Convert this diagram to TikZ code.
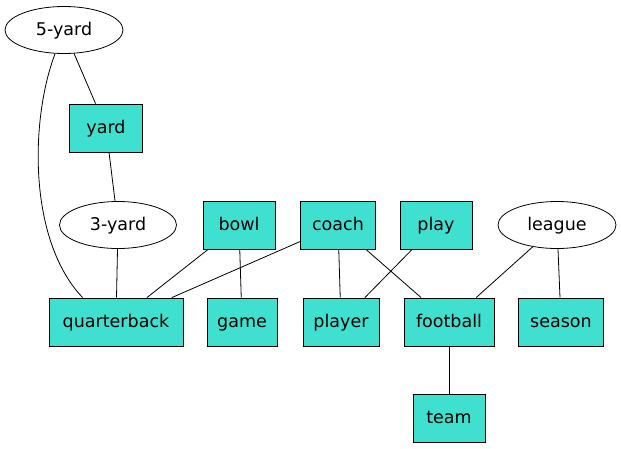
\documentclass[tikz,border=0pt]{standalone}
\usepackage{fontspec}
\setmainfont{DejaVu Sans}
\usetikzlibrary{shapes.geometric}
\definecolor{turq}{HTML}{40E0D0}
\begin{document}
\begin{tikzpicture}[x=1pt,y=-1pt,
  lbl/.style={font=\fontsize{17.5}{21}\selectfont,text height=14pt,text depth=4pt},
  box/.style={draw,line width=0.8pt,fill=turq,minimum height=48pt,inner sep=0pt,lbl},
  ell/.style={draw,line width=0.8pt,ellipse,minimum width=118pt,minimum height=47pt,inner sep=0pt,lbl},
  edge/.style={draw,line width=0.8pt}]
\useasboundingbox (0,0) rectangle (621,448);
\node[ell] (y5) at (64,30) {5-yard};
\node[box,minimum width=73pt] (yard) at (106,128) {yard};
\node[ell,minimum width=117pt] (y3) at (118,225) {3-yard};
\node[box,minimum width=72pt] (bowl) at (239,225) {bowl};
\node[box,minimum width=75pt] (coach) at (338,225) {coach};
\node[box,minimum width=72pt] (play) at (436,225) {play};
\node[ell] (league) at (557,225) {league};
\node[box,minimum width=134pt] (qb) at (116,322) {quarterback};
\node[box,minimum width=70pt] (game) at (242,322) {game};
\node[box,minimum width=76pt] (player) at (341,322) {player};
\node[box,minimum width=90pt] (football) at (449,322) {football};
\node[box,minimum width=85pt] (season) at (561,322) {season};
\node[box,minimum width=72pt] (team) at (449,418) {team};
\draw[edge] (y5) -- (yard);
\draw[edge] (y5) .. controls (30,120) and (28,240) .. ([xshift=34pt]qb.north west);
\draw[edge] (yard) -- (y3);
\draw[edge] (y3) -- (qb);
\draw[edge] (bowl) -- (qb);
\draw[edge] (bowl) -- (game);
\draw[edge] (coach) -- (qb);
\draw[edge] (coach) -- (player);
\draw[edge] (coach) -- (football);
\draw[edge] (play) -- (player);
\draw[edge] (league) -- (football);
\draw[edge] (league) -- (season);
\draw[edge] (football) -- (team);
\end{tikzpicture}
\end{document}
